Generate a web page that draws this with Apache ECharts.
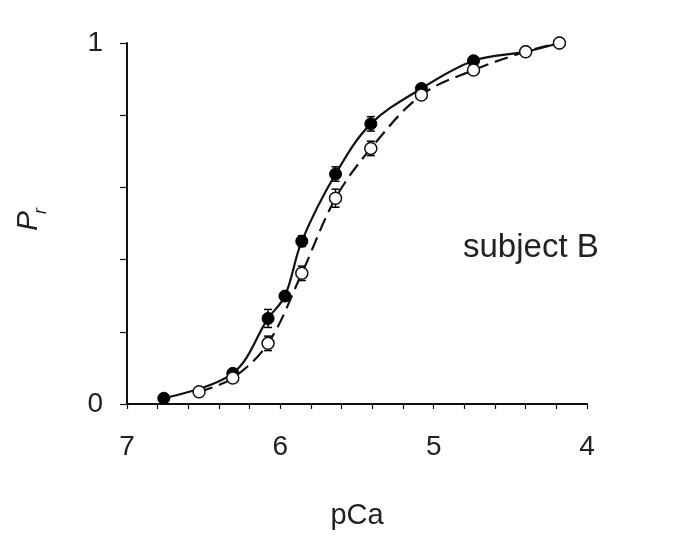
<!DOCTYPE html>
<html><head><meta charset="utf-8">
<script src="https://cdn.jsdelivr.net/npm/echarts@6/dist/echarts.min.js"></script>
<style>html,body{margin:0;padding:0;background:#fff}#c{width:689px;height:536px}</style>
</head><body><div id="c"></div>
<script>
var pCaFilled = [6.76, 6.31, 6.08, 5.97, 5.86, 5.64, 5.41, 5.08, 4.74, 4.40, 4.18];
var prFilled  = [0.016, 0.085, 0.237, 0.299, 0.451, 0.637, 0.776, 0.874, 0.951, 0.976, 1.0];
var errFilled = [0, 0.01, 0.025, 0, 0.015, 0.02, 0.02, 0.01, 0.01, 0, 0];
var pCaOpen = [6.53, 6.31, 6.08, 5.86, 5.64, 5.41, 5.08, 4.74, 4.40, 4.18];
var prOpen  = [0.034, 0.072, 0.168, 0.362, 0.570, 0.708, 0.856, 0.925, 0.976, 1.0];
var errOpen = [0, 0.01, 0.02, 0.02, 0.025, 0.02, 0.01, 0.01, 0, 0];
var xTickLabels = ['4', '5', '6', '7'];
var yTickLabels = ['0', '1'];

function pairs(xs, ys) { return xs.map(function (x, i) { return [x, ys[i]]; }); }
function errData(xs, ys, es) { return xs.map(function (x, i) { return [x, ys[i] - es[i], ys[i] + es[i]]; }); }
function errSeries(xs, ys, es) {
  return {
    type: 'custom', z: 1, silent: true,
    data: errData(xs, ys, es),
    renderItem: function (params, api) {
      var lo = api.coord([api.value(0), api.value(1)]);
      var hi = api.coord([api.value(0), api.value(2)]);
      var st = { stroke: '#000', lineWidth: 1.5 };
      return { type: 'group', children: [
        { type: 'line', shape: { x1: lo[0], y1: lo[1], x2: hi[0], y2: hi[1] }, style: st },
        { type: 'line', shape: { x1: lo[0] - 4, y1: lo[1], x2: lo[0] + 4, y2: lo[1] }, style: st },
        { type: 'line', shape: { x1: hi[0] - 4, y1: hi[1], x2: hi[0] + 4, y2: hi[1] }, style: st }
      ]};
    }
  };
}
var font = 'Liberation Sans, Arial, sans-serif';
var chart = echarts.init(document.getElementById('c'));
chart.setOption({
  backgroundColor: '#fff',
  animation: false,
  grid: { left: 127, right: 102, top: 43, bottom: 132 },
  xAxis: {
    type: 'value', min: 4, max: 7, interval: 0.2, inverse: true,
    name: 'pCa', nameLocation: 'middle', nameGap: 97,
    nameTextStyle: { fontFamily: font, fontSize: 29, color: '#222' },
    axisLine: { lineStyle: { color: '#111', width: 2 } },
    axisTick: { show: true, inside: false, length: 5, lineStyle: { color: '#111', width: 1.2 } },
    axisLabel: { margin: 29, fontFamily: font, fontSize: 28, color: '#222',
      formatter: function (v) { var s = String(Math.round(v)); return (Math.abs(v - Math.round(v)) < 1e-6 && xTickLabels.indexOf(s) >= 0) ? s : ''; } },
    splitLine: { show: false }
  },
  yAxis: {
    type: 'value', min: 0, max: 1, interval: 0.2,
    axisLine: { lineStyle: { color: '#111', width: 2 } },
    axisTick: { show: true, inside: false, length: 7, lineStyle: { color: '#111', width: 1.2 } },
    axisLabel: { margin: 24, fontFamily: font, fontSize: 28, color: '#222',
      formatter: function (v) { var s = String(Math.round(v)); return (Math.abs(v - Math.round(v)) < 1e-6 && yTickLabels.indexOf(s) >= 0) ? s : ''; } },
    splitLine: { show: false }
  },
  graphic: [
    { type: 'text', x: 463, y: 248, style: { text: 'subject B', font: '33px ' + font, fill: '#222', verticalAlign: 'middle', align: 'left' } },
    { type: 'text', x: 29, y: 221, rotation: Math.PI / 2, style: { text: 'P', font: 'italic 30px ' + font, fill: '#222', align: 'center', verticalAlign: 'middle' } },
    { type: 'text', x: 41, y: 211, rotation: Math.PI / 2, style: { text: 'r', font: 'italic 18px ' + font, fill: '#222', align: 'center', verticalAlign: 'middle' } }
  ],
  series: [
    errSeries(pCaFilled, prFilled, errFilled),
    errSeries(pCaOpen, prOpen, errOpen),
    { type: 'line', z: 3, data: pairs(pCaFilled, prFilled), smooth: 0.35,
      lineStyle: { color: '#111', width: 2.2 },
      symbol: 'circle', symbolSize: 12, itemStyle: { color: '#000', borderColor: '#000', borderWidth: 1 } },
    { type: 'line', z: 4, data: pairs(pCaOpen, prOpen), smooth: 0.35,
      lineStyle: { color: '#111', width: 2.2, type: [14, 7] },
      symbol: 'circle', symbolSize: 12, showAllSymbol: true, itemStyle: { color: '#fff', borderColor: '#111', borderWidth: 1.5 } }
  ]
});
</script></body></html>
